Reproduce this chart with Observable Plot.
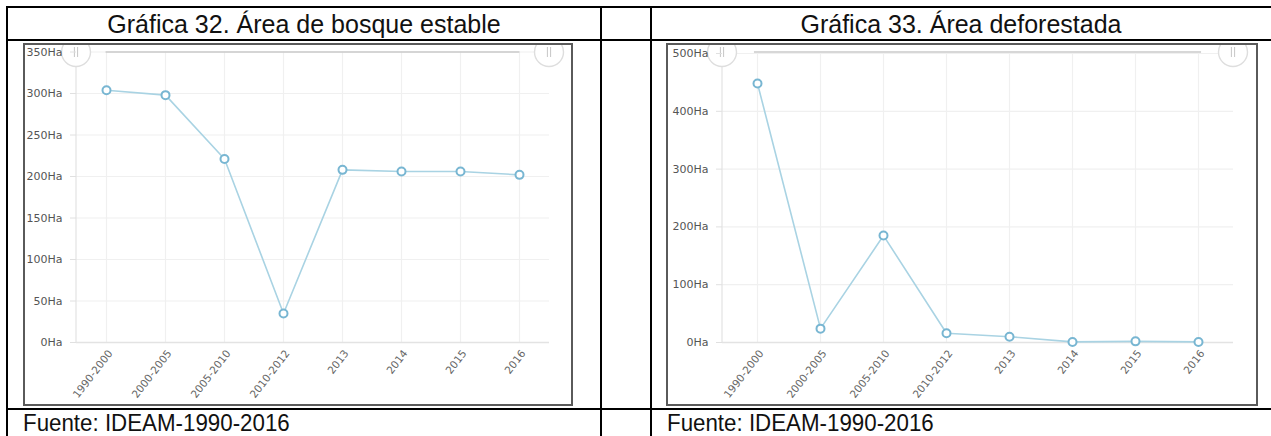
<!DOCTYPE html>
<html>
<head>
<meta charset="utf-8">
<script src="https://cdn.jsdelivr.net/npm/d3@7"></script>
<script src="https://cdn.jsdelivr.net/npm/@observablehq/plot@0.6"></script>
<style>
  html, body { margin: 0; padding: 0; background: #fff; }
  body { width: 1271px; height: 436px; overflow: hidden; position: relative; font-family: "Liberation Sans", Arial, sans-serif; }
  .hl { position: absolute; height: 2px; background: #000; }
  .vl { position: absolute; width: 2px; background: #000; }
  .title { position: absolute; top: 8px; height: 32px; line-height: 33px; text-align: center; font-size: 25px; color: #111; white-space: nowrap; }
  .title span { display: inline-block; }
  .foot { position: absolute; top: 410px; font-size: 24px; line-height: 26px; white-space: nowrap; color: #111; }
  .foot span { display: inline-block; transform: scaleX(0.93); transform-origin: left center; }
  .frame { position: absolute; border: 2px solid #5a5a5a; box-sizing: border-box; overflow: hidden; background: #fff; }
  .frame svg { display: block; }
</style>
</head>
<body>
<div class="hl" style="left:6px; top:6px; width:1265px;"></div>
<div class="hl" style="left:6px; top:39px; width:1265px;"></div>
<div class="hl" style="left:6px; top:408px; width:1265px;"></div>
<div class="vl" style="left:6px; top:6px; height:430px;"></div>
<div class="vl" style="left:600px; top:6px; height:430px;"></div>
<div class="vl" style="left:650px; top:6px; height:430px;"></div>

<div class="title" style="left:8px; width:592px;"><span id="t1"></span></div>
<div class="title" style="left:652px; width:618px;"><span id="t2"></span></div>

<div class="frame" id="f1" style="left:23px; top:43px; width:550px; height:363px;"></div>
<div class="frame" id="f2" style="left:666px; top:43px; width:592px; height:363px;"></div>

<div class="foot" style="left:23px;"><span id="s1"></span></div>
<div class="foot" style="left:667px;"><span id="s2"></span></div>

<script>
// ---- data ----
const titles = ["Gráfica 32. Área de bosque estable", "Gráfica 33. Área deforestada"];
const sourceNote = "Fuente: IDEAM-1990-2016";
const categories = ["1990-2000", "2000-2005", "2005-2010", "2010-2012", "2013", "2014", "2015", "2016"];
const bosqueEstable = [304, 298, 221, 35, 208, 206, 206, 202];
const areaDeforestada = [448, 24, 185, 16, 10, 1, 2, 1];
const yTicksBosque = [0, 50, 100, 150, 200, 250, 300, 350];
const yTicksDeforestada = [0, 100, 200, 300, 400, 500];
const yUnit = "Ha";

document.getElementById("t1").textContent = titles[0];
document.getElementById("t2").textContent = titles[1];
document.getElementById("s1").textContent = sourceNote;
document.getElementById("s2").textContent = sourceNote;

function getDims(args) {
  for (const a of args) if (a && typeof a === "object" && "marginLeft" in a && "width" in a) return a;
  return null;
}

function axisLines(...args) {
  const d = getDims(args);
  const g = d3.create("svg:g");
  const x0 = d.marginLeft;
  const yb = d.height - d.marginBottom;
  g.append("line").attr("x1", x0).attr("x2", x0).attr("y1", 0).attr("y2", yb)
    .attr("stroke", "#e3e3e3").attr("stroke-width", 1.2);
  return g.node();
}

function slider(...args) {
  const d = getDims(args);
  const x0 = d.marginLeft, x1 = d.width - d.marginRight;
  const step = (x1 - x0) / categories.length;
  const ty = 7;
  const g = d3.create("svg:g");
  g.append("line").attr("x1", x0 + step / 2).attr("x2", x1 - step / 2).attr("y1", ty).attr("y2", ty)
    .attr("stroke", "#cacaca").attr("stroke-width", 1.6);
  for (const cx of [x0, x1]) {
    g.append("circle").attr("cx", cx).attr("cy", ty).attr("r", 14.5)
      .attr("fill", "#fff").attr("stroke", "#dedede").attr("stroke-width", 1.4);
    for (const dx of [-1.6, 1.6]) {
      g.append("line").attr("x1", cx + dx).attr("x2", cx + dx).attr("y1", 2).attr("y2", 12)
        .attr("stroke", "#c6c6c6").attr("stroke-width", 1);
    }
  }
  return g.node();
}

function makeChart(values, yTicks, cfg) {
  const data = categories.map((c, i) => ({cat: c, v: values[i]}));
  const yMax = yTicks[yTicks.length - 1];
  return Plot.plot({
    width: cfg.width,
    height: cfg.height,
    marginLeft: cfg.marginLeft,
    marginRight: cfg.marginRight,
    marginTop: cfg.marginTop,
    marginBottom: cfg.marginBottom,
    style: {fontFamily: "'DejaVu Sans', Verdana, sans-serif", fontSize: "10px", background: "#fff", overflow: "hidden"},
    x: {type: "point", domain: categories, padding: 0.5, align: 0.5, label: null},
    y: {domain: [0, yMax], label: null},
    marks: [
      Plot.gridY({ticks: yTicks, stroke: "#f0f0f0", strokeOpacity: 1, strokeWidth: 1.2}),
      Plot.gridX({stroke: "#f0f0f0", strokeOpacity: 1, strokeWidth: 1.2}),
      Plot.ruleY([0], {stroke: "#e3e3e3", strokeWidth: 1.4}),
      axisLines,
      slider,
      Plot.line(data, {x: "cat", y: "v", stroke: "#a9d3e3", strokeWidth: 1.6}),
      Plot.dot(data, {x: "cat", y: "v", r: 4, fill: "#fff", stroke: "#78b6d2", strokeWidth: 2}),
      Plot.axisY({ticks: yTicks, tickFormat: d => d + yUnit, tickSize: 6, tickPadding: 8, label: null,
        stroke: "#e0e0e0", fill: "#555", fontSize: 11}),
      Plot.axisX({tickRotate: -52, tickSize: 0, tickPadding: 9, label: null, dx: 4, fill: "#666", fontSize: 10.5})
    ]
  });
}

document.getElementById("f1").appendChild(makeChart(bosqueEstable, yTicksBosque,
  {width: 546, height: 359, marginLeft: 51, marginRight: 22, marginTop: 6.5, marginBottom: 62}));
document.getElementById("f2").appendChild(makeChart(areaDeforestada, yTicksDeforestada,
  {width: 588, height: 359, marginLeft: 54, marginRight: 23, marginTop: 8, marginBottom: 62}));
</script>
</body>
</html>
